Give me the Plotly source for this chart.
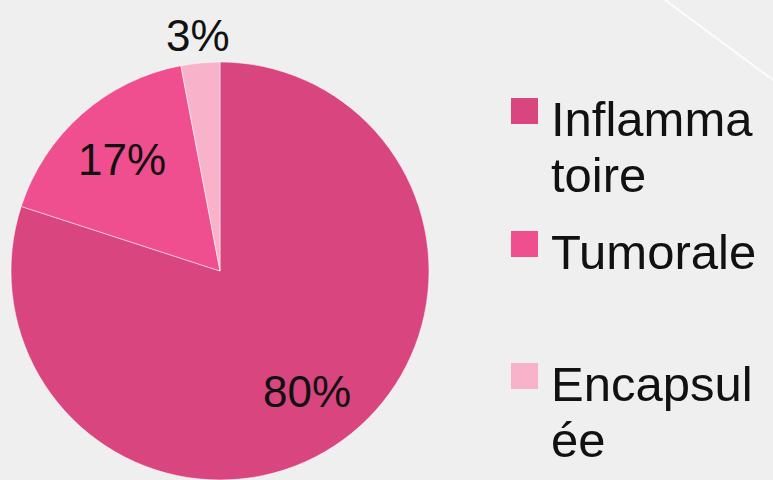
import math
import plotly.graph_objects as go

labels = ["Inflammatoire", "Tumorale", "Encapsulée"]
legend_lines = [["Inflamma", "toire"], ["Tumorale"], ["Encapsul", "ée"]]
values = [80, 17, 3]
colors = ["#D8457F", "#EF4E8F", "#F8B3CA"]

W, H = 773, 480
cx, cy, R = 220, 271, 209   # pie centre / radius in pixels

fig = go.Figure(data=[go.Pie(labels=labels,
                             values=values,
                             sort=False,
                             direction="clockwise",
                             rotation=0,
                             marker=dict(colors=colors,
                                         line=dict(color="rgba(255,255,255,0.5)", width=1)),
                             textinfo="none",
                             domain=dict(x=[(cx - R) / W, (cx + R) / W], y=[0, 1 - (cy - R) / H]),
                             showlegend=False,
                             hoverinfo="label+percent",
                             )
                      ]
                )

# percentage labels placed at the slice mid-angles (powerpoint style)
total = sum(values)
start = 0
for i, v in enumerate(values):
    mid = (start + v / 2) / total * 2 * math.pi
    start += v
    frac = 1.13 if v / total < 0.05 else 0.71
    px_ = cx + frac * R * math.sin(mid)
    py_ = cy - frac * R * math.cos(mid)
    fig.add_annotation(xref="paper", yref="paper", x=px_ / W, y=1 - py_ / H,
                       xanchor="center", yanchor="middle", showarrow=False,
                       text=f"{round(v / total * 100)}%",
                       font=dict(family="Liberation Sans", size=44, color="#111111"))

# legend drawn by hand (squares + wrapped labels), 56px line spacing
sq_top = [98, 231, 363]
for i, lines in enumerate(legend_lines):
    fig.add_shape(type="rect", xref="paper", yref="paper",
                  x0=511 / W, x1=538 / W,
                  y0=1 - (sq_top[i] + 26) / H, y1=1 - sq_top[i] / H,
                  fillcolor=colors[i], line=dict(width=0))
    for j, line in enumerate(lines):
        fig.add_annotation(xref="paper", yref="paper",
                           x=549 / W, y=1 - (sq_top[i] - 8 + j * 56) / H,
                           xanchor="left", yanchor="top", align="left",
                           text=line, showarrow=False,
                           font=dict(family="Liberation Sans", size=49, color="#111111"))

# faint diagonal stripe of the slide background
fig.add_shape(type="line", xref="paper", yref="paper",
              x0=665 / W, y0=1, x1=1, y1=1 - 80 / H,
              line=dict(color="rgba(255,255,255,0.8)", width=2))

fig.update_layout(width=W, height=H,
                  margin=dict(l=0, r=0, t=0, b=0),
                  paper_bgcolor="#EFEFEF",
                  plot_bgcolor="#EFEFEF",
                  font=dict(family="Liberation Sans"),
                  )

fig.write_html("out.html", config={"displayModeBar": False},
               post_script="document.body.style.margin='0';")
